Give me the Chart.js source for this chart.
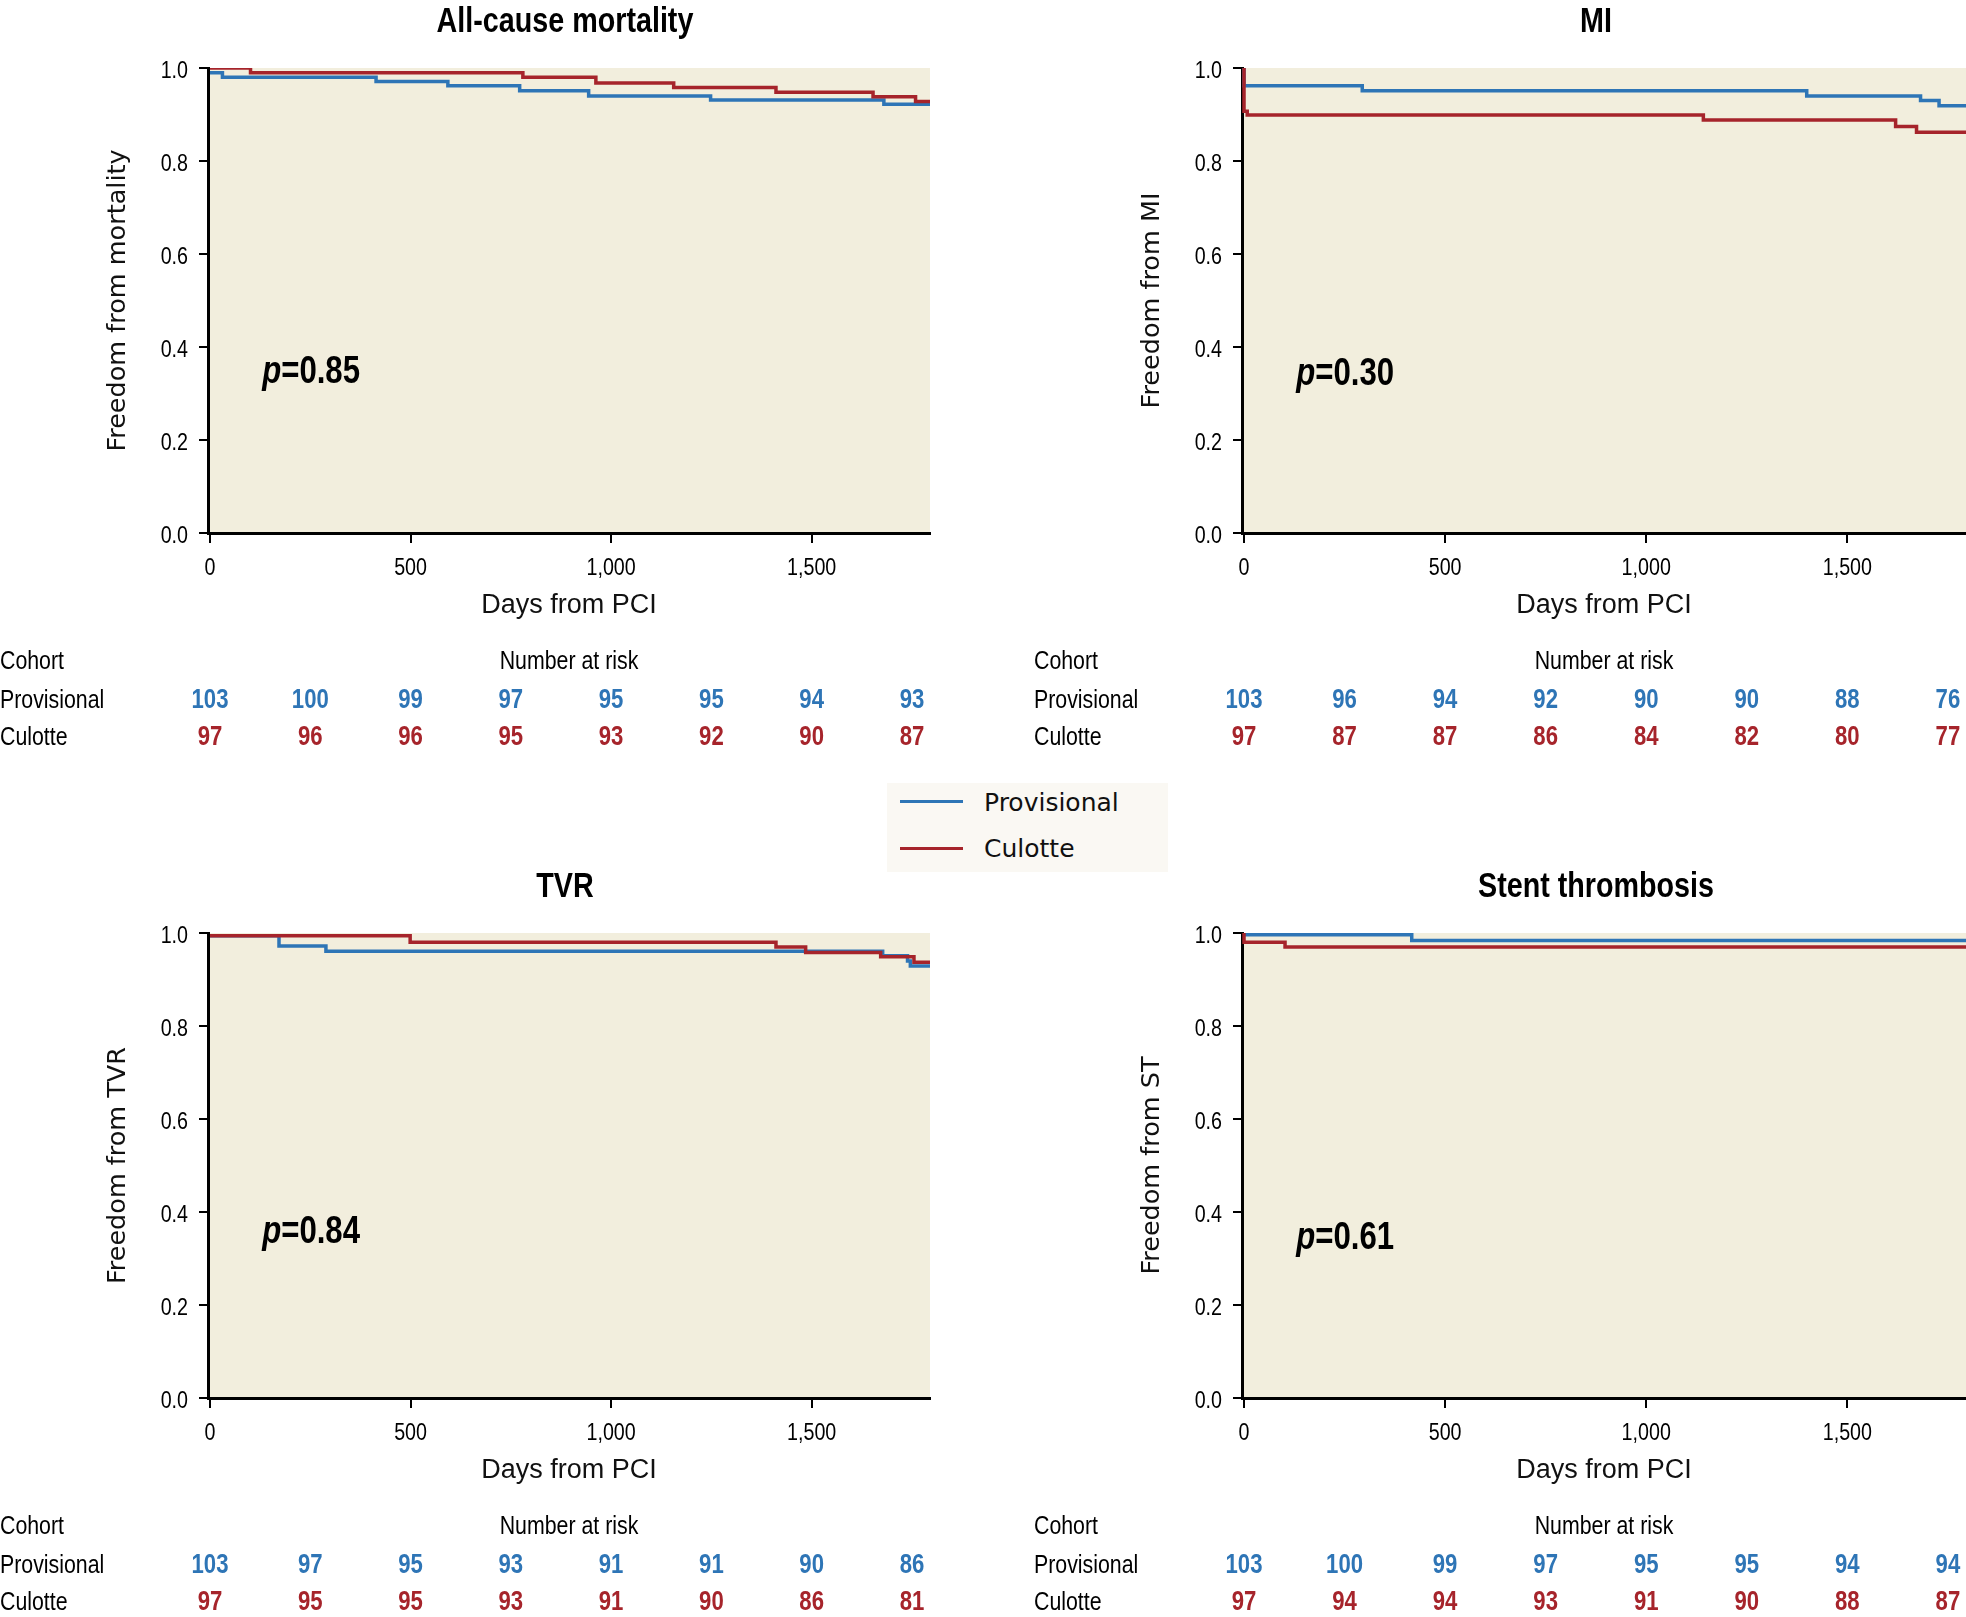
<!DOCTYPE html>
<html><head><meta charset="utf-8">
<script src="https://cdn.jsdelivr.net/npm/chart.js@4.4.1/dist/chart.umd.min.js"></script>
<style>
html,body{margin:0;padding:0;background:#fff;}
body{width:1966px;height:1617px;position:relative;overflow:hidden;}
canvas{position:absolute;}
#legend{position:absolute;left:887px;top:783px;width:281px;height:89px;background:#FAF8F3;font-family:'DejaVu Sans',sans-serif;font-size:25px;color:#111;}
#legend .ln{position:absolute;left:13px;width:63px;height:0;border-top:3.5px solid;}
#legend .tx{position:absolute;left:97px;line-height:30px;}
</style></head><body>
<canvas id="c1" width="983" height="808" style="left:0;top:0"></canvas>
<canvas id="c2" width="932" height="808" style="left:1034px;top:0"></canvas>
<canvas id="c3" width="983" height="752" style="left:0;top:865px"></canvas>
<canvas id="c4" width="932" height="752" style="left:1034px;top:865px"></canvas>
<div id="legend">
  <div class="ln" style="top:17px;border-color:#2E75B6"></div><div class="tx" style="top:5px">Provisional</div>
  <div class="ln" style="top:64px;border-color:#A6242B"></div><div class="tx" style="top:51px">Culotte</div>
</div>
<script>
// ---------- data ----------
const seriesNames = ['Provisional', 'Culotte'];
const xTicks = [0, 500, 1000, 1500];
const yTicks = [0, 0.2, 0.4, 0.6, 0.8, 1.0];
const riskDays = [0, 250, 500, 750, 1000, 1250, 1500, 1750];

const mortProvDays = [0, 31, 414, 593, 772, 944, 1248, 1680, 1795];
const mortProvSurv = [0.990, 0.980, 0.971, 0.962, 0.951, 0.940, 0.931, 0.922, 0.922];
const mortCulDays  = [0, 101, 780, 962, 1156, 1411, 1653, 1759, 1795];
const mortCulSurv  = [1.000, 0.990, 0.980, 0.968, 0.958, 0.948, 0.938, 0.928, 0.928];
const mortProvRisk = [103, 100, 99, 97, 95, 95, 94, 93];
const mortCulRisk  = [97, 96, 96, 95, 93, 92, 90, 87];

const miProvDays = [0, 0, 294, 1399, 1682, 1728, 1795];
const miProvSurv = [1.000, 0.962, 0.951, 0.940, 0.930, 0.919, 0.919];
const miCulDays  = [0, 0, 8, 1142, 1620, 1672, 1795];
const miCulSurv  = [1.000, 0.907, 0.899, 0.888, 0.874, 0.862, 0.862];
const miProvRisk = [103, 96, 94, 92, 90, 90, 88, 76];
const miCulRisk  = [97, 87, 87, 86, 84, 82, 80, 77];

const tvrProvDays = [0, 172, 289, 1677, 1739, 1746, 1795];
const tvrProvSurv = [0.994, 0.972, 0.961, 0.951, 0.940, 0.929, 0.929];
const tvrCulDays  = [0, 499, 1411, 1485, 1672, 1755, 1795];
const tvrCulSurv  = [0.994, 0.980, 0.970, 0.958, 0.949, 0.937, 0.937];
const tvrProvRisk = [103, 97, 95, 93, 91, 91, 90, 86];
const tvrCulRisk  = [97, 95, 95, 93, 91, 90, 86, 81];

const stProvDays = [0, 417, 1795];
const stProvSurv = [0.996, 0.984, 0.984];
const stCulDays  = [0, 0, 102, 1795];
const stCulSurv  = [1.000, 0.980, 0.970, 0.970];
const stProvRisk = [103, 100, 99, 97, 95, 95, 94, 94];
const stCulRisk  = [97, 94, 94, 93, 91, 90, 88, 87];

const titles  = ['All-cause mortality', 'MI', 'TVR', 'Stent thrombosis'];
const yTitles = ['Freedom from mortality', 'Freedom from MI', 'Freedom from TVR', 'Freedom from ST'];
const pValues = ['0.85', '0.30', '0.84', '0.61'];

// ---------- style ----------
const BLUE = '#2E75B6', RED = '#A6242B', PANEL = '#F2EEDD';
const SANS = "'Liberation Sans',Arial,sans-serif";
const WIDE = "'DejaVu Sans',sans-serif";
const NARROW_SX = 0.82;
const P_DAY = 130;
const P_SURV = [0.323, 0.319, 0.333, 0.320];
const TITLE_DX = [-4, -8, -4, -8];

function pts(days, surv) { return days.map((d, i) => ({x: d, y: surv[i]})); }

// condensed text: Liberation Sans squeezed horizontally (Arial Narrow look)
function narrowText(ctx, text, x, y, font, align, color) {
  ctx.save();
  ctx.font = font;
  ctx.fillStyle = color || '#000';
  ctx.textBaseline = 'alphabetic';
  ctx.textAlign = 'left';
  const w = ctx.measureText(text).width * NARROW_SX;
  const x0 = align === 'center' ? x - w / 2 : align === 'right' ? x - w : x;
  ctx.translate(x0, y);
  ctx.scale(NARROW_SX, 1);
  ctx.fillText(text, 0, 0);
  ctx.restore();
  return w;
}

function panelPlugin(k, provRisk, culRisk) {
  return {
    id: 'panel' + k,
    beforeDraw(chart) {
      const {ctx, chartArea: a} = chart;
      ctx.save();
      ctx.fillStyle = PANEL;
      ctx.fillRect(a.left, a.top, a.right - a.left, a.bottom - a.top);
      ctx.restore();
    },
    afterDraw(chart) {
      const {ctx, chartArea: a, scales: {x, y}} = chart;
      const cx = (a.left + a.right) / 2;
      // tick labels
      x.ticks.forEach(t => {
        narrowText(ctx, Number(t.value).toLocaleString('en-US'), x.getPixelForValue(t.value),
                   a.bottom + 42, `24px ${SANS}`, 'center');
      });
      y.ticks.forEach(t => {
        narrowText(ctx, Number(t.value).toFixed(1), a.left - 20, y.getPixelForValue(t.value) + 9.5,
                   `24px ${SANS}`, 'right');
      });
      // panel title
      narrowText(ctx, titles[k], cx + TITLE_DX[k], 31.5, `bold 35px ${SANS}`, 'center');
      // p value
      const px = x.getPixelForValue(P_DAY), py = y.getPixelForValue(P_SURV[k]);
      const w = narrowText(ctx, 'p', px, py, `italic bold 38px ${SANS}`, 'left');
      narrowText(ctx, '=' + pValues[k], px + w, py, `bold 38px ${SANS}`, 'left');
      // number at risk table
      narrowText(ctx, 'Cohort', 0, 669, `26px ${SANS}`, 'left');
      narrowText(ctx, seriesNames[0], 0, 708, `26px ${SANS}`, 'left');
      narrowText(ctx, seriesNames[1], 0, 745, `26px ${SANS}`, 'left');
      narrowText(ctx, 'Number at risk', cx, 669, `26px ${SANS}`, 'center');
      riskDays.forEach((d, i) => {
        const rx = x.getPixelForValue(d);
        narrowText(ctx, String(provRisk[i]), rx, 708, `bold 27px ${SANS}`, 'center', BLUE);
        narrowText(ctx, String(culRisk[i]), rx, 745, `bold 27px ${SANS}`, 'center', RED);
      });
    }
  };
}

function makePanel(id, k, rightPad, bottomPad, provDays, provSurv, culDays, culSurv, provRisk, culRisk) {
  const gridOpts = {display: true, drawOnChartArea: false, drawTicks: true, color: '#000', lineWidth: 2};
  new Chart(document.getElementById(id), {
    type: 'line',
    data: {datasets: [
      {label: seriesNames[0], data: pts(provDays, provSurv), borderColor: BLUE, borderWidth: 3.5,
       stepped: true, pointRadius: 0, fill: false, order: 1},
      {label: seriesNames[1], data: pts(culDays, culSurv), borderColor: RED, borderWidth: 3.5,
       stepped: true, pointRadius: 0, fill: false, order: 0}
    ]},
    options: {
      responsive: false, animation: false, devicePixelRatio: 1,
      layout: {padding: {top: 68, left: 0, right: rightPad, bottom: bottomPad}},
      plugins: {legend: {display: false}, tooltip: {enabled: false}},
      scales: {
        x: {
          type: 'linear', min: -5, max: 1795,
          afterBuildTicks: s => { s.ticks = xTicks.map(v => ({value: v})); },
          afterFit: s => { s.height = 100; },
          ticks: {display: false},
          grid: Object.assign({tickLength: 10}, gridOpts),
          border: {display: true, color: '#000', width: 3},
          title: {display: true, text: 'Days from PCI', color: '#111',
                  font: {family: SANS, size: 27}, padding: {top: 0, bottom: 11}}
        },
        y: {
          type: 'linear', min: 0, max: 1,
          afterBuildTicks: s => { s.ticks = yTicks.map(v => ({value: v})); },
          afterFit: s => { s.width = 208; },
          ticks: {display: false},
          grid: Object.assign({tickLength: 9}, gridOpts),
          border: {display: true, color: '#000', width: 3},
          title: {display: true, text: yTitles[k], color: '#111',
                  font: {family: WIDE, size: 25.5}, padding: {top: 103, bottom: 0}}
        }
      }
    },
    plugins: [panelPlugin(k, provRisk, culRisk)]
  });
}

makePanel('c1', 0, 53, 175, mortProvDays, mortProvSurv, mortCulDays, mortCulSurv, mortProvRisk, mortCulRisk);
makePanel('c2', 1, 0, 175, miProvDays, miProvSurv, miCulDays, miCulSurv, miProvRisk, miCulRisk);
makePanel('c3', 2, 53, 119, tvrProvDays, tvrProvSurv, tvrCulDays, tvrCulSurv, tvrProvRisk, tvrCulRisk);
makePanel('c4', 3, 0, 119, stProvDays, stProvSurv, stCulDays, stCulSurv, stProvRisk, stCulRisk);
</script>
</body></html>
